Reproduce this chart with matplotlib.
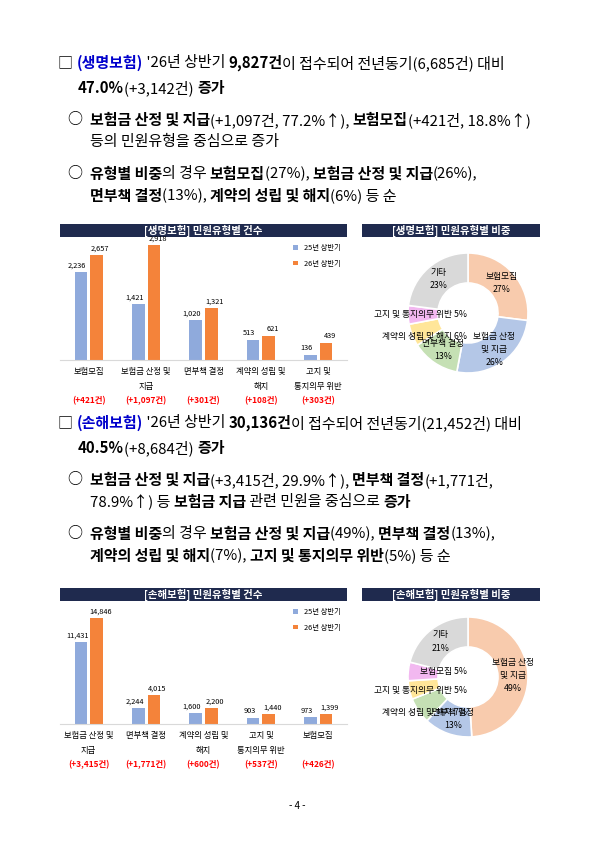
import numpy as np
import matplotlib.pyplot as plt

plt.rcParams['font.family'] = ['Noto Sans CJK KR', 'DejaVu Sans']

# ---- data ----
life_cats = ["보험모집", "보험금 산정 및\n지급", "면부책 결정", "계약의 성립 및\n해지", "고지 및\n통지의무 위반"]
life_25 = [2236, 1421, 1020, 513, 136]
life_26 = [2657, 2918, 1321, 621, 439]
life_diff = ["(+421건)", "(+1,097건)", "(+301건)", "(+108건)", "(+303건)"]
life_pie_labels = ["보험모집", "보험금 산정\n및 지급", "면부책 결정", "계약의 성립 및 해지", "고지 및 통지의무 위반", "기타"]
life_pie = [27, 26, 13, 6, 5, 23]

nl_cats = ["보험금 산정 및\n지급", "면부책 결정", "계약의 성립 및\n해지", "고지 및\n통지의무 위반", "보험모집"]
nl_25 = [11431, 2244, 1600, 903, 973]
nl_26 = [14846, 4015, 2200, 1440, 1399]
nl_diff = ["(+3,415건)", "(+1,771건)", "(+600건)", "(+537건)", "(+426건)"]
nl_pie_labels = ["보험금 산정\n및 지급", "면부책 결정", "계약의 성립 및 해지", "고지 및 통지의무 위반", "보험모집", "기타"]
nl_pie = [49, 13, 7, 5, 5, 21]

W, H = 595, 841
fig = plt.figure(figsize=(5.95, 8.41), dpi=100)
fig.patch.set_facecolor("white")
renderer = fig.canvas.get_renderer()

BLUE_C = "#8faadc"
ORANGE_C = "#f4833a"
NAVY = "#1f2a4e"
PIE_COLORS = ["#f8cbad", "#b4c7e7", "#c5e0b4", "#ffe699", "#f2b8f0", "#d9d9d9"]


def rich(x, y, parts, size=10.8):
    # draw segments left to right; parts = (text, bold, color)
    for txt, bold, col in parts:
        t = fig.text(x / W, 1 - y / H, txt, fontsize=size, va="center", ha="left",
                     fontweight="bold" if bold else "normal", color=col)
        bb = t.get_window_extent(renderer)
        x += bb.width


K = "black"
B = "#0000cc"


def header_block(y0, parts1, parts2, b1, b1b, b2, b2b):
    rich(58, y0, parts1)
    rich(78, y0 + 25, parts2)
    rich(68, y0 + 57, b1)
    rich(90, y0 + 79, b1b)
    rich(68, y0 + 111, b2)
    rich(90, y0 + 133, b2b)


header_block(63,
             [("□ ", False, K), ("(생명보험)", True, B), (" '26년 상반기 ", False, K), ("9,827건", True, K),
              ("이 접수되어 전년동기(6,685건) 대비", False, K)],
             [("47.0%", True, K), ("(+3,142건) ", False, K), ("증가", True, K)],
             [("○  ", False, K), ("보험금 산정 및 지급", True, K), ("(+1,097건, 77.2%↑), ", False, K),
              ("보험모집", True, K), ("(+421건, 18.8%↑)", False, K)],
             [("등의 민원유형을 중심으로 증가", False, K)],
             [("○  ", False, K), ("유형별 비중", True, K), ("의 경우 ", False, K), ("보험모집", True, K),
              ("(27%), ", False, K), ("보험금 산정 및 지급", True, K), ("(26%),", False, K)],
             [("면부책 결정", True, K), ("(13%), ", False, K), ("계약의 성립 및 해지", True, K),
              ("(6%) 등 순", False, K)])

header_block(423,
             [("□ ", False, K), ("(손해보험)", True, B), (" '26년 상반기 ", False, K), ("30,136건", True, K),
              ("이 접수되어 전년동기(21,452건) 대비", False, K)],
             [("40.5%", True, K), ("(+8,684건) ", False, K), ("증가", True, K)],
             [("○  ", False, K), ("보험금 산정 및 지급", True, K), ("(+3,415건, 29.9%↑), ", False, K),
              ("면부책 결정", True, K), ("(+1,771건,", False, K)],
             [("78.9%↑) 등 ", False, K), ("보험금 지급", True, K), (" 관련 민원을 중심으로 ", False, K),
              ("증가", True, K)],
             [("○  ", False, K), ("유형별 비중", True, K), ("의 경우 ", False, K), ("보험금 산정 및 지급", True, K),
              ("(49%), ", False, K), ("면부책 결정", True, K), ("(13%),", False, K)],
             [("계약의 성립 및 해지", True, K), ("(7%), ", False, K), ("고지 및 통지의무 위반", True, K),
              ("(5%) 등 순", False, K)])


def title_bar(x0, x1, y0, txt):
    ax = fig.add_axes([x0 / W, 1 - (y0 + 13) / H, (x1 - x0) / W, 13 / H])
    ax.set_facecolor(NAVY)
    ax.set_xticks([]); ax.set_yticks([])
    for s in ax.spines.values():
        s.set_visible(False)
    ax.text(0.5, 0.45, txt, color="white", fontsize=7.5, ha="center", va="center",
            fontweight="bold", transform=ax.transAxes)


def bar_chart(top, title, cats, v25, v26, diffs, ymax):
    title_bar(60, 347, top, title)
    ax = fig.add_axes([60 / W, 1 - (top + 136) / H, 287 / W, 120 / H])
    x = np.arange(len(cats))
    w = 0.22
    ax.bar(x - 0.135, v25, w, color=BLUE_C, label="25년 상반기")
    ax.bar(x + 0.135, v26, w, color=ORANGE_C, label="26년 상반기")
    for i in range(len(cats)):
        ax.text(x[i] - 0.2, v25[i] + ymax * 0.02, f"{v25[i]:,}", fontsize=5.3, ha="center", va="bottom")
        ax.text(x[i] + 0.2, v26[i] + ymax * 0.02, f"{v26[i]:,}", fontsize=5.3, ha="center", va="bottom")
        ax.text(x[i], -ymax * 0.06, cats[i], fontsize=6, ha="center", va="top", linespacing=1.8)
        ax.text(x[i], -ymax * 0.3, diffs[i], fontsize=6, ha="center", va="top", color="red",
                fontweight="bold")
    ax.set_xlim(-0.5, len(cats) - 0.5)
    ax.set_ylim(0, ymax)
    ax.set_xticks([]); ax.set_yticks([])
    for s in ["top", "right", "left"]:
        ax.spines[s].set_visible(False)
    ax.spines["bottom"].set_color("#d9d9d9")
    ax.legend(loc="upper right", fontsize=5.3, frameon=False, handlelength=0.6, handleheight=0.6,
              labelspacing=1.0, bbox_to_anchor=(1.0, 1.02))


def donut(top, title, vals, labels):
    title_bar(362, 540, top, title)
    ax = fig.add_axes([393 / W, 1 - (top + 164) / H, 150 / W, 150 / H])
    wedges, _ = ax.pie(vals, colors=PIE_COLORS, startangle=90, counterclock=False,
                       wedgeprops=dict(width=0.5, edgecolor="white", linewidth=1.2))
    ax.set_aspect("equal")
    for wd, v, lab in zip(wedges, vals, labels):
        ang = np.deg2rad((wd.theta1 + wd.theta2) / 2)
        if v >= 10:
            r = 0.75
            ax.text(r * np.cos(ang), r * np.sin(ang), f"{lab}\n{v}%", fontsize=6.3, ha="center",
                    va="center", linespacing=1.6)
        else:
            ax.text(-0.02, 1.05 * np.sin(ang), f"{lab} {v}%", fontsize=6.3, ha="right", va="center")


bar_chart(224, "[생명보험] 민원유형별 건수", life_cats, life_25, life_26, life_diff, 3050)
donut(224, "[생명보험] 민원유형별 비중", life_pie, life_pie_labels)
bar_chart(588, "[손해보험] 민원유형별 건수", nl_cats, nl_25, nl_26, nl_diff, 16800)
donut(588, "[손해보험] 민원유형별 비중", nl_pie, nl_pie_labels)

fig.text(0.5, 1 - 806 / H, "- 4 -", fontsize=7, ha="center", va="center")

fig.savefig("out.png", dpi=100)
